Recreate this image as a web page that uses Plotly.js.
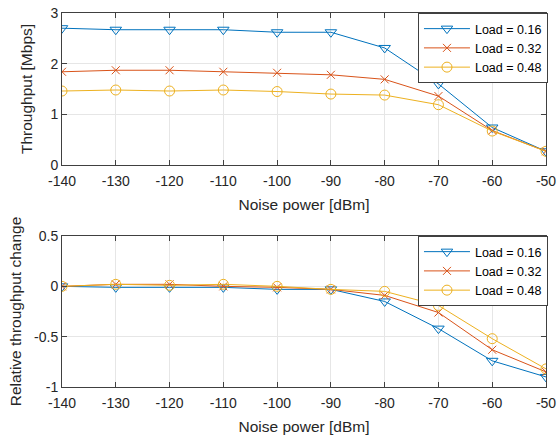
<!DOCTYPE html>
<html><head><meta charset="utf-8">
<script src="https://cdn.plot.ly/plotly-3.0.1.min.js"></script>
<style>html,body{margin:0;padding:0;background:#fff}#chart{width:558px;height:436px}</style>
</head><body><div id="chart"></div>
<script>
const noise = [-140, -130, -120, -110, -100, -90, -80, -70, -60, -50];
const noiseTickText = ['-140', '-130', '-120', '-110', '-100', '-90', '-80', '-70', '-60', '-50'];
const thrTicks = [0, 1, 2, 3];
const thrTickText = ['0', '1', '2', '3'];
const relTicks = [-1, -0.5, 0, 0.5];
const relTickText = ['-1', '-0.5', '0', '0.5'];
const seriesNames = ['Load = 0.16', 'Load = 0.32', 'Load = 0.48'];
const thr016 = [2.70, 2.67, 2.67, 2.67, 2.62, 2.62, 2.31, 1.60, 0.74, 0.27];
const thr032 = [1.84, 1.87, 1.87, 1.84, 1.82, 1.78, 1.69, 1.36, 0.68, 0.27];
const thr048 = [1.46, 1.48, 1.46, 1.48, 1.45, 1.40, 1.38, 1.19, 0.67, 0.27];
const rel016 = [0, -0.01, -0.01, -0.01, -0.03, -0.03, -0.15, -0.42, -0.74, -0.90];
const rel032 = [0, 0.02, 0.02, 0.00, -0.01, -0.03, -0.09, -0.26, -0.63, -0.85];
const rel048 = [0, 0.02, 0.01, 0.02, 0.00, -0.03, -0.05, -0.19, -0.52, -0.82];

const colors = ['#0072BD', '#D95319', '#EDB120'];
const symbols = ['triangle-down-open', 'x-thin-open', 'circle-open'];
const sizes = [10, 8, 10];
const topSeries = [thr016, thr032, thr048];
const botSeries = [rel016, rel032, rel048];

const traces = [];
topSeries.forEach((ys, i) => traces.push({
  x: noise, y: ys, name: seriesNames[i], type: 'scatter', mode: 'lines+markers',
  xaxis: 'x', yaxis: 'y', legend: 'legend',
  line: {color: colors[i], width: 1},
  marker: {symbol: symbols[i], size: sizes[i], color: colors[i], line: {color: colors[i], width: 1}}
}));
botSeries.forEach((ys, i) => traces.push({
  x: noise, y: ys, name: seriesNames[i], type: 'scatter', mode: 'lines+markers',
  xaxis: 'x2', yaxis: 'y2', legend: 'legend2',
  line: {color: colors[i], width: 1},
  marker: {symbol: symbols[i], size: sizes[i], color: colors[i], line: {color: colors[i], width: 1}}
}));

const fam = 'Liberation Sans, Arial, sans-serif';
const font = {family: fam, size: 14, color: '#262626'};
const axBase = {
  showline: true, mirror: 'ticks', linecolor: '#404040', linewidth: 1,
  ticks: 'inside', ticklen: 5, tickcolor: '#404040',
  showgrid: true, gridcolor: '#e6e6e6', gridwidth: 1, zeroline: false,
  ticklabeloverflow: 'allow',
  tickfont: {family: fam, size: 14, color: '#262626'}
};
const xTitle = {text: 'Noise power [dBm]', font: {family: fam, size: 15.5, color: '#262626'}, standoff: 11};
const legBase = {
  x: 1.002, xanchor: 'right', yanchor: 'top',
  bgcolor: '#ffffff', bordercolor: '#404040', borderwidth: 1,
  font: {family: fam, size: 12.5, color: '#000'},
  itemwidth: 46, tracegroupgap: 0
};
const xAxisCommon = {domain: [0, 1], range: [-140, -50], tickmode: 'array', tickvals: noise, ticktext: noiseTickText,
  ticklabelstandoff: 3, title: xTitle};

const layout = {
  width: 558, height: 436,
  margin: {l: 62, r: 11, t: 13, b: 49},
  paper_bgcolor: '#fff', plot_bgcolor: '#fff',
  font: font,
  showlegend: true,
  xaxis: Object.assign({}, axBase, xAxisCommon, {anchor: 'y'}),
  yaxis: Object.assign({}, axBase, {domain: [0.5936, 1], anchor: 'x', range: [0, 3],
    tickmode: 'array', tickvals: thrTicks, ticktext: thrTickText,
    title: {text: 'Throughput [Mbps]', font: {family: fam, size: 15.5, color: '#262626'}, standoff: 13}}),
  xaxis2: Object.assign({}, axBase, xAxisCommon, {anchor: 'y2'}),
  yaxis2: Object.assign({}, axBase, {domain: [0, 0.4037], anchor: 'x2', range: [-1, 0.5],
    tickmode: 'array', tickvals: relTicks, ticktext: relTickText,
    title: {text: 'Relative throughput change', font: {family: fam, size: 15.5, color: '#262626'}, standoff: 8}}),
  legend: Object.assign({}, legBase, {y: 1.0}),
  legend2: Object.assign({}, legBase, {y: 0.4037})
};

Plotly.newPlot('chart', traces, layout, {displayModeBar: false, staticPlot: true});
</script></body></html>
